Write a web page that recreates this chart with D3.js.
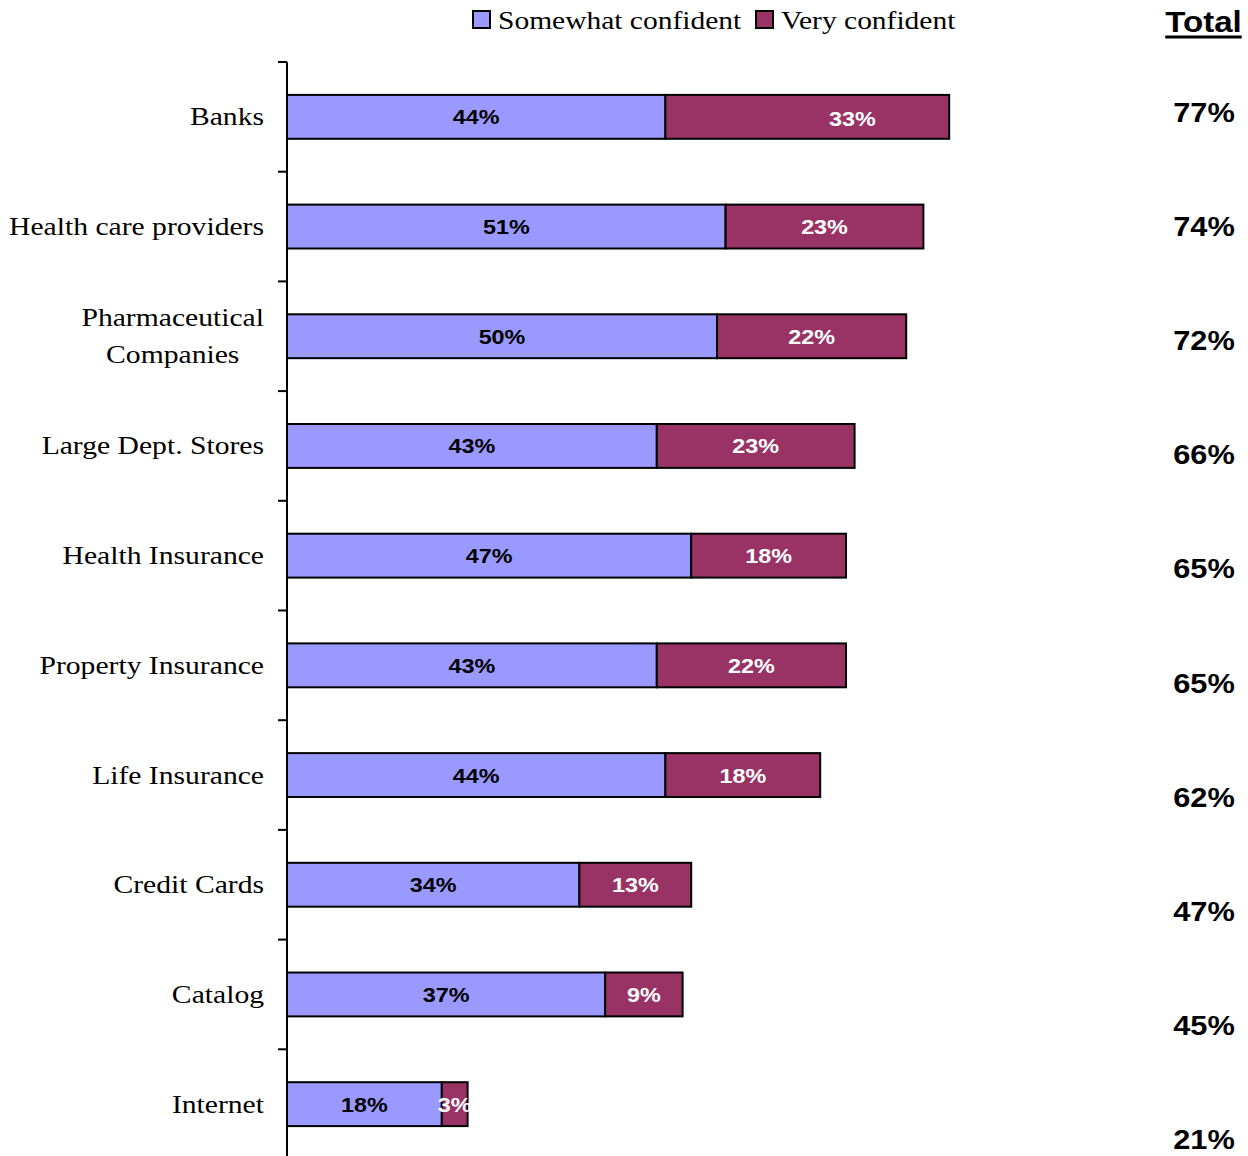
<!DOCTYPE html>
<html>
<head>
<meta charset="utf-8">
<script src="https://cdn.jsdelivr.net/npm/d3@7"></script>
<style>
  html, body { margin: 0; padding: 0; background: #fff; }
  svg { display: block; }
</style>
</head>
<body>
<div id="chart"></div>
<script>
// Confidence in organisations, stacked by level of confidence
const categories = [
  "Banks", "Health care providers", "Pharmaceutical\nCompanies", "Large Dept. Stores",
  "Health Insurance", "Property Insurance", "Life Insurance", "Credit Cards",
  "Catalog", "Internet"
];
const somewhatConfident = [44, 51, 50, 43, 47, 43, 44, 34, 37, 18];
const veryConfident     = [33, 23, 22, 23, 18, 22, 18, 13, 9, 3];
const totals            = [77, 74, 72, 66, 65, 65, 62, 47, 45, 21];
const seriesNames = ["Somewhat confident", "Very confident"];
const seriesColors = ["#9999FF", "#993366"];

const W = 1248, H = 1156;
const serif = "'Liberation Serif', 'Times New Roman', serif";
const sans = "'Liberation Sans', Arial, sans-serif";
const stretch = 1.14; // wide glyph proportions

const svg = d3.select("#chart").append("svg")
  .attr("width", W).attr("height", H)
  .attr("viewBox", `0 0 ${W} ${H}`);

const x = d3.scaleLinear().domain([0, 100]).range([287, 1147]);
const y = d3.scaleBand().domain(categories).range([62, 1159]).paddingInner(0.6).paddingOuter(0.3);
const band = d3.scaleBand().domain(categories).range([62, 1159]);
const yTotal = d3.scalePoint().domain(categories).range([112, 1139]);

// helper: horizontally stretched text
function label(g, txt, px, py, opts) {
  const t = g.append("text")
    .attr("transform", `translate(${px},${py}) scale(${opts.sx || stretch},1)`)
    .attr("text-anchor", opts.anchor || "middle")
    .attr("font-family", opts.family)
    .attr("font-size", opts.size)
    .attr("font-weight", opts.weight || "normal")
    .attr("fill", opts.fill || "#000")
    .text(txt);
  return t;
}

// stacked data
const rows = categories.map((c, i) => ({
  cat: c,
  segs: [
    { s: 0, x0: 0, x1: somewhatConfident[i], v: somewhatConfident[i] },
    { s: 1, x0: somewhatConfident[i], x1: somewhatConfident[i] + veryConfident[i], v: veryConfident[i] }
  ]
}));

const barG = svg.append("g");
rows.forEach(r => {
  r.segs.forEach(sg => {
    barG.append("rect")
      .attr("x", x(sg.x0))
      .attr("y", y(r.cat))
      .attr("width", x(sg.x1) - x(sg.x0))
      .attr("height", y.bandwidth())
      .attr("fill", seriesColors[sg.s])
      .attr("stroke", "#000")
      .attr("stroke-width", 2);
  });
});

// value labels inside segments (the Banks "very" label sits further right)
const labelNudge = { "Banks": [45, 2] };
rows.forEach(r => {
  r.segs.forEach(sg => {
    const cy = band(r.cat) + band.bandwidth() / 2;
    let cx = (x(sg.x0) + x(sg.x1)) / 2;
    let dy = 0;
    if (sg.s === 1 && labelNudge[r.cat]) { cx += labelNudge[r.cat][0]; dy = labelNudge[r.cat][1]; }
    label(barG, sg.v + "%", cx, cy + 7.5 + dy, {
      family: sans, size: 20.5, weight: "bold",
      fill: sg.s === 0 ? "#000" : "#fff"
    });
  });
});

// axis line and ticks at band boundaries
const axG = svg.append("g");
axG.append("line")
  .attr("x1", 287).attr("x2", 287)
  .attr("y1", band.range()[0]).attr("y2", H)
  .attr("stroke", "#000").attr("stroke-width", 2);
categories.forEach(c => {
  axG.append("line")
    .attr("x1", 278).attr("x2", 287)
    .attr("y1", band(c)).attr("y2", band(c))
    .attr("stroke", "#000").attr("stroke-width", 2);
});

// category labels
const catG = svg.append("g");
categories.forEach(c => {
  const lines = c.split("\n");
  const cy = band(c) + band.bandwidth() / 2;
  if (lines.length === 1) {
    label(catG, c, 264, cy + 8.5, { family: serif, size: 26, anchor: "end" });
  } else {
    const lh = 37;
    const texts = lines.map((ln, k) =>
      label(catG, ln, 0, cy + 8.5 + (k - (lines.length - 1) / 2) * lh, { family: serif, size: 26 }));
    const maxW = d3.max(texts, t => t.node().getComputedTextLength()) * stretch;
    texts.forEach((t, k) => {
      t.attr("transform", `translate(${264 - maxW / 2},${cy + 8.5 + (k - (lines.length - 1) / 2) * lh}) scale(${stretch},1)`);
    });
  }
});

// totals column
const totG = svg.append("g");
const head = label(totG, "Total", 1203.5, 32, { family: sans, size: 29, weight: "bold" });
const hw = head.node().getComputedTextLength() * stretch;
totG.append("line")
  .attr("x1", 1203.5 - hw / 2).attr("x2", 1203.5 + hw / 2)
  .attr("y1", 37).attr("y2", 37)
  .attr("stroke", "#000").attr("stroke-width", 3);
categories.forEach((c, i) => {
  label(totG, totals[i] + "%", 1204, yTotal(c) + 10, { family: sans, size: 27, weight: "bold" });
});

// legend
const legG = svg.append("g");
const legX = [473, 756];
seriesNames.forEach((n, i) => {
  legG.append("rect")
    .attr("x", legX[i]).attr("y", 11).attr("width", 17).attr("height", 17)
    .attr("fill", seriesColors[i]).attr("stroke", "#000").attr("stroke-width", 2);
  label(legG, n, legX[i] + 25, 29, { family: serif, size: 25, anchor: "start", sx: 1.18 });
});
</script>
</body>
</html>
